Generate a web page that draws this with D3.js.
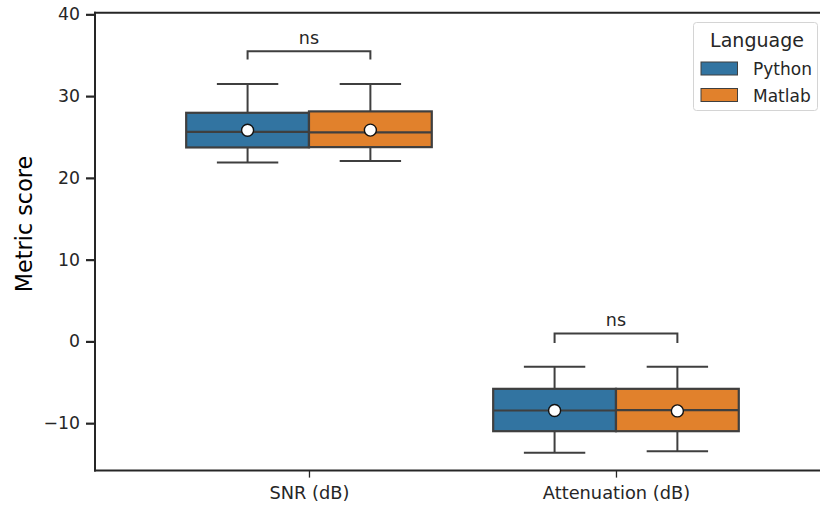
<!DOCTYPE html>
<html>
<head>
<meta charset="utf-8">
<script src="https://cdn.jsdelivr.net/npm/d3@7"></script>
<style>
  html, body { margin: 0; padding: 0; background: #fff; }
  svg { display: block; }
  svg text { font-family: "DejaVu Sans", sans-serif; }
</style>
</head>
<body>
<svg id="chart" width="820" height="508"></svg>
<script>
// Categories, groups and box statistics (whisker low, Q1, median, Q3, whisker high, mean)
const categories = ["SNR (dB)", "Attenuation (dB)"];
const languages = ["Python", "Matlab"];
const colors = ["#3274a1", "#e1812c"];

const whiskerLow  = { Python: [21.89, -13.63], Matlab: [22.05, -13.43] };
const q1          = { Python: [23.72, -10.98], Matlab: [23.76, -10.98] };
const medians     = { Python: [25.63, -8.45],  Matlab: [25.56, -8.41] };
const q3          = { Python: [27.96, -5.80],  Matlab: [28.13, -5.80] };
const whiskerHigh = { Python: [31.47, -3.11],  Matlab: [31.47, -3.11] };
const means       = { Python: [25.82, -8.45],  Matlab: [25.84, -8.50] };

// Significance brackets per category: bar level, tip level, label
const bracketTop = [35.5, 0.97];
const bracketTip = [34.49, -0.18];
const bracketLabel = ["ns", "ns"];

const yTicks = [-10, 0, 10, 20, 30, 40];

const FONT = "DejaVu Sans, sans-serif";
const svg = d3.select("#chart");
const plotLeft = 95, plotTop = 12.7, plotBottom = 470.6;

const x = d3.scaleLinear().domain([-0.697, 1.697]).range([plotLeft, plotLeft + 2.394 * 307]);
const y = d3.scaleLinear().domain([-15.8, 40.2]).range([plotBottom, plotTop]);

const groupWidth = 0.8;
const boxW = groupWidth / languages.length;
const edge = "#3f3f3f";
const txt = "#262626";

// Axes
const yAxis = d3.axisLeft(y).tickValues(yTicks).tickSize(9).tickPadding(6)
  .tickFormat(d => d < 0 ? "\u2212" + Math.abs(d) : d);
const gy = svg.append("g").attr("transform", `translate(${plotLeft},0)`).call(yAxis)
  .attr("font-family", FONT).attr("font-size", 17.3);
gy.select(".domain").remove();
gy.selectAll(".tick line").attr("stroke", txt).attr("stroke-width", 2.2);
gy.selectAll(".tick text").attr("fill", txt);

const xAxis = d3.axisBottom(x).tickValues([0, 1]).tickSize(7).tickPadding(9)
  .tickFormat(i => categories[i]);
const gx = svg.append("g").attr("transform", `translate(0,${plotBottom})`).call(xAxis)
  .attr("font-family", FONT).attr("font-size", 17.8);
gx.select(".domain").remove();
gx.selectAll(".tick line").attr("stroke", txt).attr("stroke-width", 1.3);
gx.selectAll(".tick text").attr("fill", txt);

// Boxes
categories.forEach((cat, ci) => {
  languages.forEach((lang, li) => {
    const c = ci - groupWidth / 2 + boxW * li + boxW / 2;
    const g = svg.append("g");
    const x0 = x(c - boxW / 2), x1 = x(c + boxW / 2);
    const cx = x(c);
    const capHalf = (x1 - x0) / 4;
    // whiskers
    g.append("line").attr("x1", cx).attr("x2", cx)
      .attr("y1", y(q3[lang][ci])).attr("y2", y(whiskerHigh[lang][ci]))
      .attr("stroke", edge).attr("stroke-width", 2);
    g.append("line").attr("x1", cx).attr("x2", cx)
      .attr("y1", y(q1[lang][ci])).attr("y2", y(whiskerLow[lang][ci]))
      .attr("stroke", edge).attr("stroke-width", 2);
    [whiskerHigh, whiskerLow].forEach(w => {
      g.append("line").attr("x1", cx - capHalf).attr("x2", cx + capHalf)
        .attr("y1", y(w[lang][ci])).attr("y2", y(w[lang][ci]))
        .attr("stroke", edge).attr("stroke-width", 2);
    });
    // box
    g.append("rect").attr("x", x0).attr("width", x1 - x0)
      .attr("y", y(q3[lang][ci])).attr("height", y(q1[lang][ci]) - y(q3[lang][ci]))
      .attr("fill", colors[li]).attr("stroke", edge).attr("stroke-width", 2.2);
    // median
    g.append("line").attr("x1", x0).attr("x2", x1)
      .attr("y1", y(medians[lang][ci])).attr("y2", y(medians[lang][ci]))
      .attr("stroke", edge).attr("stroke-width", 2.2);
    // mean
    g.append("circle").attr("cx", cx).attr("cy", y(means[lang][ci])).attr("r", 6)
      .attr("fill", "#fff").attr("stroke", "#111").attr("stroke-width", 1.4);
  });
});

// Significance brackets
categories.forEach((cat, ci) => {
  const cA = ci - groupWidth / 2 + boxW / 2;
  const cB = ci - groupWidth / 2 + boxW * 1.5;
  const path = d3.path();
  path.moveTo(x(cA), y(bracketTip[ci]));
  path.lineTo(x(cA), y(bracketTop[ci]));
  path.lineTo(x(cB), y(bracketTop[ci]));
  path.lineTo(x(cB), y(bracketTip[ci]));
  svg.append("path").attr("d", path.toString()).attr("fill", "none")
    .attr("stroke", edge).attr("stroke-width", 2);
  svg.append("text").attr("x", (x(cA) + x(cB)) / 2).attr("y", y(bracketTop[ci]) - 7)
    .attr("text-anchor", "middle").attr("fill", txt).attr("font-size", 17.5)
    .text(bracketLabel[ci]);
});

// Spines
svg.append("line").attr("x1", plotLeft).attr("x2", plotLeft).attr("y1", plotTop).attr("y2", plotBottom)
  .attr("stroke", txt).attr("stroke-width", 2).attr("stroke-linecap", "square");
svg.append("line").attr("x1", plotLeft).attr("x2", 820).attr("y1", plotBottom).attr("y2", plotBottom)
  .attr("stroke", txt).attr("stroke-width", 2).attr("stroke-linecap", "square");
svg.append("line").attr("x1", plotLeft).attr("x2", 820).attr("y1", plotTop).attr("y2", plotTop)
  .attr("stroke", txt).attr("stroke-width", 2).attr("stroke-linecap", "square");

// Y label
svg.append("text").attr("transform", "translate(32,224) rotate(-90)")
  .attr("text-anchor", "middle").attr("fill", "#000").attr("font-size", 22.3)
  .text("Metric score");

// Legend
const lg = svg.append("g");
lg.append("rect").attr("x", 693.5).attr("y", 22.5).attr("width", 124).attr("height", 88)
  .attr("rx", 3).attr("fill", "#fff").attr("fill-opacity", 0.8)
  .attr("stroke", "#d4d4d4").attr("stroke-width", 1);
lg.append("text").attr("x", 757).attr("y", 46.5).attr("text-anchor", "middle")
  .attr("fill", txt).attr("font-size", 19).text("Language");
languages.forEach((lang, li) => {
  const yy = 62 + li * 26.5;
  lg.append("rect").attr("x", 701).attr("y", yy).attr("width", 36.5).attr("height", 13)
    .attr("fill", colors[li]).attr("stroke", edge).attr("stroke-width", 1);
  lg.append("text").attr("x", 753).attr("y", yy + 13).attr("fill", txt)
    .attr("font-size", 17).text(lang);
});
</script>
</body>
</html>
